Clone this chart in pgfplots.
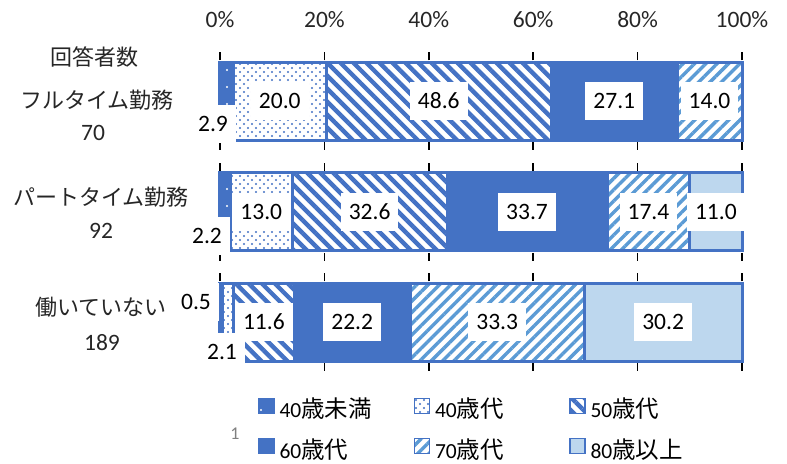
\documentclass[border=0pt]{standalone}
\usepackage{fontspec}
\setmainfont{Carlito}
\newfontfamily\cjk{Noto Sans CJK JP}
\usepackage{pgfplots}
\usepackage{pgfplotstable}
\pgfplotsset{compat=1.18}
\usetikzlibrary{patterns.meta}
\definecolor{bblue}{HTML}{4472C4}
\definecolor{sblue}{HTML}{5B9BD5}
\definecolor{lblue}{HTML}{BDD7EE}

% shares of each age group, drawn so that each row adds up to 100%
\pgfplotstableread{
row a40u a40 a50 a60 a70 a80
2 2.575 17.762 43.162 24.067 12.433 0
1 2.002 11.829 29.663 30.664 15.833 10.009
0 0.501 2.102 11.612 22.222 33.333 30.230
}\shares

% data labels: position and printed value
\pgfplotstableread{
x y lab
-1.34 1.796 2.9
11.456 2 20.0
41.918 2 48.6
75.533 2 27.1
93.783 2 14.0
-2.49 0.783 2.2
7.917 1 13.0
28.663 1 32.6
58.826 1 33.7
82.075 1 17.4
94.996 1 11.0
-4.60 0.186 0.5
0.38 -0.267 2.1
8.409 0 11.6
25.326 0 22.2
53.104 0 33.3
84.885 0 30.2
}\labels

\newcommand\jp[1]{{\cjk\fontsize{22bp}{26bp}\selectfont #1}}
\newcommand\jpl[1]{{\cjk\fontsize{23.5bp}{26bp}\selectfont #1}}

\pgfplotsset{
  base/.style={scale only axis, width=522bp, height=344bp,
    xmin=0, xmax=100, ymin=-0.448, ymax=2.665,
    at={(0,0)}, anchor=south west, clip=false},
}

\begin{document}
\begin{tikzpicture}[font=\fontsize{23.5bp}{28bp}\selectfont]
\useasboundingbox (-220bp,-92bp) rectangle (567bp,372bp);
\begin{axis}[base,
  xbar stacked, bar width=78bp,
  axis line style={draw=none},
  ytick=\empty,
  xtick={0,20,40,60,80,100},
  xticklabels={0\%,20\%,40\%,60\%,80\%,100\%},
  xticklabel pos=upper,
  major tick length=0pt,
  xticklabel style={anchor=base, inner sep=0pt, text=black!85},
  legend image code/.code={\draw[#1, line width=1.5bp] (0bp,-0.5bp) rectangle (15bp,14.5bp);},
  legend columns=3,
  legend cell align=left,
  legend style={draw=none, fill=none, at={(0.0728,-0.0744)}, anchor=north west,
    inner sep=0pt, outer sep=0pt, row sep=15bp,
    font=\fontsize{21.5bp}{24bp}\selectfont,
    nodes={text width=129bp, align=left, inner xsep=5bp, inner ysep=0pt, text height=15bp, text depth=5bp},
    /tikz/every even column/.style={column sep=0pt},
    /tikz/every odd column/.style={column sep=0pt}},
]
\addplot[fill=bblue, draw=bblue, line width=3bp,
  postaction={pattern={Dots[radius=1.1bp,distance=17bp,xshift=6bp,yshift=3bp]}, pattern color=white}]
  table[x=a40u, y=row]{\shares};
\addlegendentry{40\jpl{歳未満}}
\addplot[fill=white, draw=bblue, line width=3bp,
  postaction={pattern={Dots[radius=1.1bp,distance=8bp]}, pattern color=bblue},
  postaction={pattern={Dots[radius=1.1bp,distance=8bp,xshift=4bp,yshift=4bp]}, pattern color=bblue}]
  table[x=a40, y=row]{\shares};
\addlegendentry{40\jpl{歳代}}
\addplot[fill=white, draw=bblue, line width=3bp,
  postaction={pattern={Lines[angle=-45,distance=9.2bp,line width=4.4bp]}, pattern color=bblue}]
  table[x=a50, y=row]{\shares};
\addlegendentry{50\jpl{歳代}}
\addplot[fill=bblue, draw=bblue, line width=3bp]
  table[x=a60, y=row]{\shares};
\addlegendentry{60\jpl{歳代}}
\addplot[fill=white, draw=bblue, line width=3bp,
  postaction={pattern={Lines[angle=45,distance=8bp,line width=3.4bp]}, pattern color=sblue}]
  table[x=a70, y=row]{\shares};
\addlegendentry{70\jpl{歳代}}
\addplot[fill=lblue, draw=bblue, line width=3bp]
  table[x=a80, y=row]{\shares};
\addlegendentry{80\jpl{歳以上}}
\end{axis}

\begin{axis}[base, hide axis]
\addplot[draw=none, mark=none, nodes near coords, point meta=explicit symbolic,
  nodes near coords style={anchor=center, fill=white, text=black, inner xsep=8bp, inner ysep=11.5bp,
    text height=15bp, text depth=0pt, font=\fontsize{23.5bp}{28bp}\selectfont}]
  table[x=x, y=y, meta=lab]{\labels};
\pgfplotsinvokeforeach{0,20,40,60,80,100}{
  \draw[black, line width=1.5bp]
    ([yshift=41bp]axis cs:#1,0) -- ++(0pt,8bp)
    ([yshift=-41bp]axis cs:#1,0) -- ++(0pt,-8bp)
    ([yshift=41bp]axis cs:#1,1) -- ++(0pt,8bp)
    ([yshift=-41bp]axis cs:#1,1) -- ++(0pt,-8bp)
    ([yshift=41bp]axis cs:#1,2) -- ++(0pt,8bp)
    ([yshift=-41bp]axis cs:#1,2) -- ++(0pt,-8bp);
}
\end{axis}

\node[text=black!85] at (-125bp,315bp) {\jp{回答者数}};
\node[text=black!85] at (-123bp,272bp) {\jp{フルタイム勤務}};
\node[text=black!85] at (-127bp,239bp) {70};
\node[text=black!85] at (-119bp,175bp) {\jp{パートタイム勤務}};
\node[text=black!85] at (-119bp,141bp) {92};
\node[text=black!85] at (-119bp,65bp) {\jp{働いていない}};
\node[text=black!85] at (-118bp,29bp) {189};
\node[text=gray] at (15bp,-62bp) {\fontsize{18bp}{20bp}\selectfont 1};
\end{tikzpicture}
\end{document}
